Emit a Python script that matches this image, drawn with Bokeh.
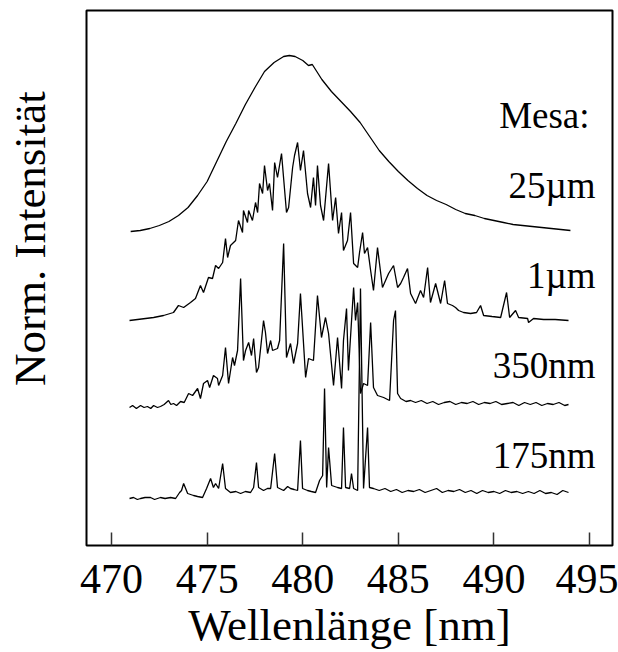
from bokeh.plotting import figure
from bokeh.models import Range1d, FixedTicker, Label, LinearAxis
from bokeh.embed import file_html
from bokeh.resources import INLINE

# ---------------- data ----------------
x_ticks = [470, 475, 480, 485, 490, 495]

labels = ["25µm", "1µm", "350nm", "175nm"]
offsets = [3.14, 2.25, 1.38, 0.47]   # vertical stacking offsets of the spectra

wl_25 = [471.0, 471.5, 472.0, 472.5, 473.0, 473.5, 474.0, 474.5, 475.0, 475.5,
         476.0, 476.5, 477.0, 477.5, 478.0, 478.5, 479.0, 479.3, 479.6, 480.0,
         480.3, 480.5, 481.0, 481.5, 482.0, 482.5, 483.0, 483.5, 484.0, 484.5,
         485.0, 485.5, 486.0, 486.5, 487.0, 487.5, 488.0, 488.5, 489.0, 489.5,
         490.0, 490.5, 491.0, 491.5, 492.0, 492.5, 493.0, 493.5, 494.0]
i_25 = [0.00, 0.01, 0.03, 0.06, 0.10, 0.16, 0.24, 0.36, 0.50, 0.70,
        0.90, 1.08, 1.27, 1.44, 1.60, 1.69, 1.75, 1.76, 1.75, 1.71,
        1.66, 1.67, 1.52, 1.40, 1.30, 1.20, 1.09, 0.95, 0.81, 0.70,
        0.60, 0.51, 0.43, 0.36, 0.31, 0.27, 0.22, 0.18, 0.16, 0.13,
        0.11, 0.09, 0.07, 0.06, 0.05, 0.04, 0.03, 0.02, 0.01]

wl_1um = [470.94, 472.20, 472.72, 473.24, 473.50, 473.77, 474.13, 474.39, 474.65, 474.81,
          475.07, 475.28, 475.44, 475.60, 475.81, 475.96, 476.07, 476.22, 476.49, 476.64,
          476.85, 476.90, 477.11, 477.17, 477.37, 477.53, 477.64, 477.74, 477.90, 478.00,
          478.16, 478.26, 478.42, 478.53, 478.68, 478.89, 479.15, 479.26, 479.47, 479.57,
          479.73, 479.88, 480.04, 480.25, 480.41, 480.56, 480.67, 480.77, 480.93, 481.09,
          481.35, 481.56, 481.72, 481.87, 482.03, 482.13, 482.34, 482.50, 482.66, 482.87,
          482.97, 483.13, 483.23, 483.39, 483.55, 483.70, 483.91, 484.17, 484.49, 484.75,
          484.96, 485.12, 485.27, 485.48, 485.64, 485.90, 486.16, 486.32, 486.53, 486.68,
          486.95, 487.21, 487.42, 487.57, 487.83, 487.99, 488.15, 488.41, 488.78, 489.09,
          489.30, 489.46, 489.90, 490.35, 490.66, 490.82, 491.13, 491.29, 491.76, 491.81,
          492.07, 492.60, 493.20, 493.90]
i_1um = [0.00, 0.03, 0.05, 0.08, 0.15, 0.13, 0.18, 0.22, 0.35, 0.28,
         0.43, 0.42, 0.55, 0.52, 0.58, 0.82, 0.63, 0.75, 0.80, 1.00,
         0.88, 1.10, 0.98, 1.10, 1.00, 1.18, 1.08, 1.37, 1.27, 1.55,
         1.30, 1.37, 1.10, 1.58, 1.43, 1.67, 1.08, 1.13, 1.53, 1.65,
         1.78, 1.50, 1.70, 1.27, 1.13, 1.43, 1.15, 1.55, 1.15, 1.00,
         1.57, 1.00, 1.23, 0.87, 1.08, 0.70, 0.80, 1.08, 0.57, 0.53,
         0.68, 0.88, 0.67, 0.73, 0.50, 0.30, 0.73, 0.33, 0.47, 0.55,
         0.33, 0.37, 0.43, 0.52, 0.27, 0.17, 0.30, 0.23, 0.53, 0.18,
         0.37, 0.17, 0.40, 0.17, 0.15, 0.13, 0.10, 0.08, 0.07, 0.08,
         0.15, 0.05, 0.04, 0.03, 0.28, 0.03, 0.10, 0.03, 0.02, -0.02,
         0.02, 0.01, 0.01, 0.00]

wl_350 = [470.94, 471.10, 471.30, 471.52, 471.70, 471.88, 472.05, 472.20, 472.40, 472.56,
          472.75, 472.98, 473.10, 473.24, 473.40, 473.61, 473.80, 474.03, 474.24, 474.50,
          474.65, 474.81, 475.02, 475.13, 475.33, 475.54, 475.60, 475.81, 475.96, 476.12,
          476.33, 476.43, 476.59, 476.75, 476.90, 477.01, 477.17, 477.32, 477.43, 477.58,
          477.69, 477.95, 478.05, 478.16, 478.32, 478.42, 478.68, 478.79, 479.00, 479.15,
          479.36, 479.52, 479.73, 479.88, 480.15, 480.30, 480.56, 480.77, 480.98, 481.19,
          481.35, 481.61, 481.82, 482.03, 482.13, 482.29, 482.39, 482.66, 482.76, 482.87,
          483.02, 483.18, 483.39, 483.55, 483.70, 483.91, 484.23, 484.54, 484.75, 484.85,
          484.96, 485.12, 485.40, 485.64,
          485.90, 486.20, 486.50, 486.80, 487.10, 487.40, 487.70, 488.00, 488.30, 488.60,
          488.90, 489.20, 489.50, 489.80, 490.10, 490.40, 490.70, 491.00, 491.30, 491.60,
          491.90, 492.20, 492.50, 492.80, 493.10, 493.40, 493.70, 493.90]
i_350 = [0.00, 0.02, -0.01, 0.02, 0.00, 0.01, -0.01, 0.02, 0.00, 0.01,
         0.03, 0.07, 0.03, 0.04, 0.02, 0.06, 0.05, 0.14, 0.12, 0.19,
         0.09, 0.24, 0.27, 0.20, 0.32, 0.29, 0.22, 0.32, 0.60, 0.24,
         0.50, 0.42, 0.57, 1.29, 0.47, 0.57, 0.65, 0.52, 0.69, 0.35,
         0.40, 0.87, 0.75, 0.54, 0.67, 0.57, 0.59, 0.67, 1.64, 0.50,
         0.64, 0.44, 0.64, 1.14, 0.30, 0.49, 0.47, 1.12, 0.70, 0.90,
         0.74, 0.22, 0.70, 0.19, 0.67, 0.99, 0.37, 1.20, 0.87, 1.05,
         0.14, 0.24, 0.22, 0.85, 0.20, 0.12, 0.10, 0.07, 0.87, 0.97,
         0.14, 0.09, 0.06, 0.07,
         0.05, 0.07, 0.04, 0.06, 0.03, 0.05, 0.06, 0.03, 0.05, 0.04,
         0.06, 0.03, 0.05, 0.04, 0.06, 0.03, 0.04, 0.05, 0.02, 0.05,
         0.03, 0.05, 0.02, 0.04, 0.03, 0.05, 0.02, 0.03]

wl_175 = [470.94, 471.15, 471.35, 471.52, 471.75, 472.04, 472.25, 472.56, 472.80, 473.09,
          473.35, 473.56, 473.66, 473.77, 473.98, 474.29, 474.50, 474.76, 474.97, 475.18,
          475.33, 475.44, 475.60, 475.81, 475.96, 476.22, 476.50, 476.75, 477.00, 477.27,
          477.43, 477.58, 477.69, 477.95, 478.15, 478.32, 478.53, 478.68, 479.00, 479.21,
          479.36, 479.55, 479.73, 479.88, 479.99, 480.25, 480.45, 480.67, 480.88, 481.04,
          481.14, 481.25, 481.35, 481.51, 481.82, 482.03, 482.13, 482.24, 482.45, 482.55,
          482.66, 482.87, 483.02, 483.18, 483.39, 483.49,
          483.70, 484.00, 484.30, 484.60, 484.90, 485.20, 485.50, 485.80, 486.10, 486.40,
          486.70, 487.00, 487.30, 487.60, 487.90, 488.20, 488.50, 488.80, 489.10, 489.40,
          489.70, 490.00, 490.30, 490.60, 490.90, 491.20, 491.50, 491.80, 492.10, 492.40,
          492.70, 493.00, 493.30, 493.60, 493.90]
i_175 = [0.00, 0.01, -0.01, 0.00, 0.01, 0.01, -0.01, 0.01, 0.00, 0.01,
         0.00, 0.06, 0.08, 0.15, 0.05, 0.03, 0.02, 0.01, 0.10, 0.20,
         0.11, 0.15, 0.10, 0.35, 0.10, 0.06, 0.07, 0.05, 0.07, 0.06,
         0.11, 0.36, 0.11, 0.08, 0.10, 0.10, 0.45, 0.11, 0.08, 0.12,
         0.10, 0.09, 0.08, 0.58, 0.10, 0.08, 0.07, 0.06, 0.18, 0.23,
         1.10, 0.11, 0.51, 0.13, 0.11, 0.10, 0.71, 0.11, 0.10, 0.25,
         0.10, 0.08, 2.10, 0.10, 0.71, 0.11,
         0.10, 0.08, 0.10, 0.07, 0.09, 0.06, 0.08, 0.07, 0.09, 0.06,
         0.08, 0.10, 0.06, 0.08, 0.07, 0.09, 0.06, 0.08, 0.05, 0.08,
         0.06, 0.07, 0.05, 0.08, 0.06, 0.07, 0.05, 0.07, 0.05, 0.08,
         0.05, 0.06, 0.04, 0.08, 0.06]

series_wl = [wl_25, wl_1um, wl_350, wl_175]
series_i = [i_25, i_1um, i_350, i_175]

# ---------------- figure ----------------
FONT = "Liberation Serif"
NBSP = "\u00a0"

p = figure(width=618, height=652, output_backend="svg", toolbar_location=None,
           x_range=Range1d(468.69, 496.2), y_range=Range1d(0, 5.35),
           y_axis_location=None,
           min_border_left=86, min_border_right=6, min_border_top=10,
           min_border_bottom=107)
p.title.visible = False
p.grid.visible = False
p.outline_line_color = "black"
p.outline_line_width = 2
p.background_fill_color = "white"
p.border_fill_color = "white"

ax = p.xaxis[0]
ax.ticker = FixedTicker(ticks=x_ticks)
ax.axis_line_color = None
ax.major_tick_in = 13
ax.major_tick_out = 0
ax.major_tick_line_width = 1.5
ax.major_tick_line_color = "#333333"
ax.minor_tick_line_color = None
ax.major_label_text_font = FONT
ax.major_label_text_font_size = "42px"
ax.major_label_text_color = "black"
ax.major_label_standoff = 19
ax.axis_label = "Wellenlänge [nm]"
ax.axis_label_text_font = FONT
ax.axis_label_text_font_size = "45px"
ax.axis_label_text_font_style = "normal"
ax.axis_label_text_color = "black"
ax.axis_label_standoff = 4

# left axis: no ticks, only the (slightly raised) label
yax = LinearAxis(ticker=FixedTicker(ticks=[]), axis_line_color=None,
                 major_tick_out=0, major_tick_in=0, minor_tick_out=0, minor_tick_in=0,
                 major_label_standoff=0,
                 axis_label=NBSP * 7 + "Norm. Intensität",
                 axis_label_text_font=FONT, axis_label_text_font_size="45px",
                 axis_label_text_font_style="normal", axis_label_text_color="black",
                 axis_label_standoff=32)
p.add_layout(yax, "left")

for wl, inten, off in zip(series_wl, series_i, offsets):
    p.line(wl, [v + off for v in inten], line_color="black", line_width=1.3)

# annotations
p.add_layout(Label(x=495.0, y=4.30, text="Mesa:", text_align="right",
                   text_baseline="alphabetic", text_font=FONT,
                   text_font_size="37px", text_color="black"))
label_y = [3.60, 2.70, 1.80, 0.90]
for t, yy in zip(labels, label_y):
    p.add_layout(Label(x=495.31, y=yy, text=t, text_align="right",
                       text_baseline="alphabetic", text_font=FONT,
                       text_font_size="37px", text_color="black"))

open("out.html", "w").write(file_html(p, INLINE))
